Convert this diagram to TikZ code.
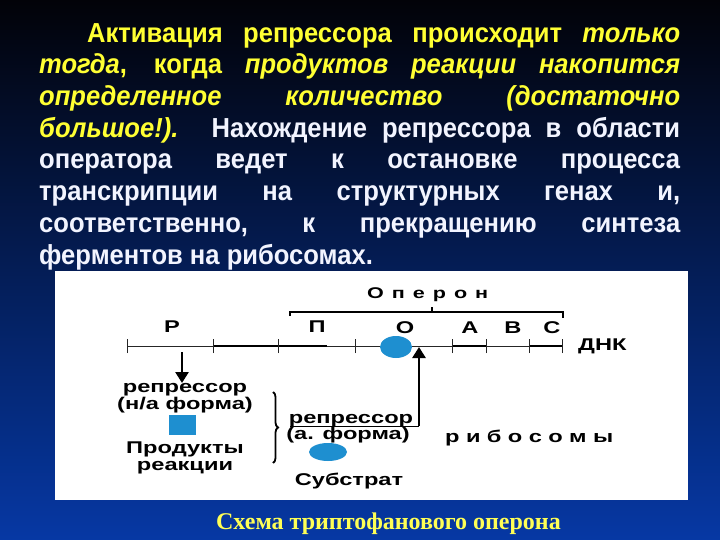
\documentclass[tikz,border=0pt]{standalone}
\usepackage{fontspec}
\usetikzlibrary{arrows.meta,decorations.pathreplacing,shapes.geometric}
\newfontfamily\mtxt[FakeStretch=0.93]{Liberation Sans}
\newfontfamily\dgf[FakeStretch=1.39]{Liberation Sans Bold}
\newfontfamily\capf{Liberation Serif}
\definecolor{ylw}{HTML}{FFFF33}
\definecolor{wht}{HTML}{F2F4FF}
\definecolor{capy}{HTML}{FFFF55}
\definecolor{blobc}{HTML}{1E8FD0}
\definecolor{bgtop}{HTML}{020208}
\definecolor{bgmid}{HTML}{0A2A8E}
\definecolor{bgbot}{HTML}{0638A4}
\tikzset{
  mainline/.style={anchor=base west, inner sep=0pt, font=\mtxt\bfseries\fontsize{27.5}{31}\selectfont},
  dlabel/.style={anchor=base, inner sep=0pt, font=\dgf\fontsize{17}{17}\selectfont, text=black},
  slabel/.style={anchor=base west, inner sep=0pt, font=\dgf\fontsize{15.5}{16}\selectfont, text=black},
  blob/.style={fill=blobc, draw=none},
  thickarrow/.style={line width=2.6pt, -{Triangle[width=13pt,length=11pt]}},
  dna/.style={line width=1pt, draw=black!85},
  tickmark/.style={line width=0.9pt, draw=black!85}
}
\begin{document}
\begin{tikzpicture}[x=1pt,y=-1pt]
\useasboundingbox (0,0) rectangle (720,540);
\shade[top color=bgtop, middle color=bgmid, bottom color=bgbot] (0,0) rectangle (720,540);
\fill[white] (55,271) rectangle (688,500);

% main text
\node[mainline, text=ylw] (l1) at (87,42.3) {\makebox[593pt][s]{Активация репрессора происходит {\itshape только}}};
\node[mainline, text=ylw] (l2) at (39,74) {\makebox[641pt][s]{{\itshape тогда}, когда {\itshape продуктов реакции накопится}}};
\node[mainline, text=ylw] (l3) at (39,105.7) {\makebox[641pt][s]{\itshape определенное количество (достаточно}};
\node[mainline, text=wht] (l4) at (39,137.3) {\makebox[641pt][s]{{\color{ylw}\itshape большое!).} Нахождение репрессора в области}};
\node[mainline, text=wht] (l5) at (39,169) {\makebox[641pt][s]{оператора ведет к остановке процесса}};
\node[mainline, text=wht] (l6) at (39,200.7) {\makebox[641pt][s]{транскрипции на структурных генах и,}};
\node[mainline, text=wht] (l7) at (39,232.3) {\makebox[641pt][s]{соответственно, к прекращению синтеза}};
\node[mainline, text=wht] (l8) at (39,264) {ферментов на рибосомах.};

% DNA line
\coordinate (d0) at (127,346);
\coordinate (d1) at (213,346);
\coordinate (d2) at (278,346);
\coordinate (d3) at (355,346);
\coordinate (d4) at (452,346);
\coordinate (d5) at (486,346);
\coordinate (d6) at (529,346);
\coordinate (d7) at (562,346);
\draw[dna] (d0) -- (d7);
\draw[line width=1.8pt] (d1) -- (327,346);
\draw[line width=1.4pt] (d4) -- (d5);
\draw[line width=1.8pt] (d6) -- (d7);
\foreach \t in {d0,d1,d2,d3,d4,d5,d6,d7}{\draw[tickmark] ([yshift=-7pt]\t) -- ([yshift=7pt]\t);}

% operon bracket
\coordinate (b0) at (290,316);
\coordinate (b1) at (290,312);
\coordinate (b2) at (563,312);
\coordinate (b3) at (563,318);
\draw[line width=1.6pt] (b0) -- (b1) -- (b2) -- (b3);
\draw[line width=1.2pt] (432,312) -- (432,307);
\node[slabel] (operon) at (367,298) {\makebox[121pt][s]{О п е р о н}};

% gene labels
\node[dlabel] (gP) at (172,332) {Р};
\node[dlabel] (gPi) at (317,332) {П};
\node[dlabel] (gO) at (405,333) {О};
\node[dlabel] (gA) at (470,333) {А};
\node[dlabel] (gB) at (513,333) {В};
\node[dlabel] (gC) at (552,333) {С};
\node[dlabel, anchor=base west] (dnk) at (578,350) {ДНК};

% repressor on operator
\node[blob, ellipse, minimum width=32pt, minimum height=22pt, inner sep=0pt] (opblob) at (396,347) {};

% left: inactive repressor
\coordinate (rs) at (182,352);
\coordinate (re) at (182,383);
\draw[thickarrow] (rs) -- (re);
\node[dlabel] (rep1) at (185,392.5) {репрессор};
\node[dlabel] (rep1b) at (185,409) {(н/а форма)};
\node[blob, minimum width=27pt, minimum height=20pt, inner sep=0pt] (sq) at (182,425) {};
\node[dlabel] (prod1) at (185,453.5) {Продукты};
\node[dlabel] (prod2) at (185,470) {реакции};

% brace
\coordinate (br1) at (273,392);
\coordinate (br2) at (273,463);
\draw[line width=1.8pt, decorate, decoration={brace, amplitude=5pt}] (br1) -- (br2);

% active repressor
\node[dlabel] (rep2) at (351,423.5) {репрессор};
\node[dlabel] (rep2b) at (348,439) {(а. форма)};
\node[blob, ellipse, minimum width=38pt, minimum height=18pt, inner sep=0pt] (subblob) at (328,452) {};
\node[dlabel] (subs) at (349,485) {Субстрат};

\coordinate (ul) at (290,426.5);
\coordinate (corner) at (419,426.5);
\coordinate (optarget) at (419,347);
\draw[line width=1.8pt] (ul) -- (corner);
\draw[thickarrow] ([yshift=1pt]corner) -- (optarget);

\node[dlabel, anchor=base west] (ribo) at (445,442) {\makebox[168pt][s]{р и б о с о м ы}};

% caption
\node[anchor=base, inner sep=0pt, text=capy, font=\capf\bfseries\fontsize{24}{28}\selectfont] (cap) at (388.5,529) {Схема триптофанового оперона};
\end{tikzpicture}
\end{document}
